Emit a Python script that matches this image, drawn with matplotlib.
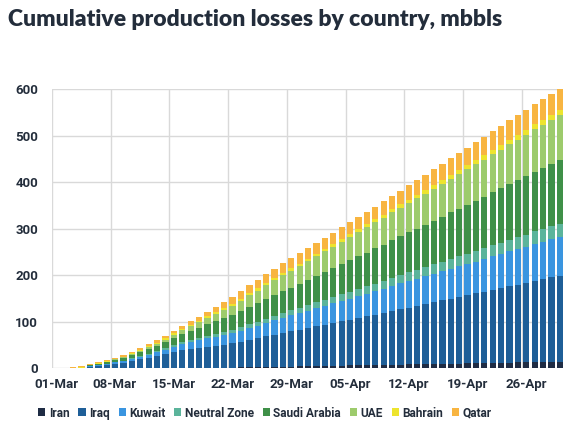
import matplotlib
matplotlib.use("Agg")
import matplotlib.pyplot as plt
import numpy as np

# daily dates 01-Mar .. 30-Apr
days = [f"{d:02d}-Mar" for d in range(1, 32)] + [f"{d:02d}-Apr" for d in range(1, 31)]
tick_days = ["01-Mar", "08-Mar", "15-Mar", "22-Mar", "29-Mar", "05-Apr", "12-Apr", "19-Apr", "26-Apr"]

countries = ["Iran", "Iraq", "Kuwait", "Neutral Zone", "Saudi Arabia", "UAE", "Bahrain", "Qatar"]
colors = ["#1f2c44", "#1f5f98", "#3a95e0", "#5bb49b", "#3f9048", "#9dcb6c", "#ede42e", "#f8b541"]

# cumulative losses per country, mbbls
iran = [0] * 15 + [0.3, 0.4, 0.5, 0.6, 0.7, 0.8, 1.0,
        1.2, 1.5, 1.8, 2.1, 2.4, 2.7, 3.0, 3.3, 3.6, 4.0, 4.4, 4.8, 5.1, 5.4,
        5.7, 6.0, 6.4, 6.7, 7.0, 7.3, 7.6, 8.0, 8.3, 8.6, 9.0, 9.3, 9.6, 10.0,
        10.3, 10.6, 11.0, 11.3, 11.6, 12.0, 12.3, 12.7, 13.0, 13.4, 13.8]
iraq = [0, 0, 0, 0, 3, 4.5, 6.5, 9, 11.5, 15, 18.5, 22, 25.5, 29.5, 34,
        38, 40.5, 43, 45.5, 47.5, 49.5, 52,
        55, 59, 62, 66, 69.5, 73, 76, 79, 82.5, 85.5, 89, 92, 95.5, 98.5,
        102, 105, 108.5, 112, 116, 119, 122.5, 126, 129.5, 133, 136.5, 140, 143.5,
        146.5, 150, 153.5, 157.5, 160.5, 164.5, 167.5, 171, 175, 178, 181.5, 184]
kuwait = [0, 0, 0, 0, 1, 1.5, 2.5, 3, 3.5, 4.5, 6, 7, 8.5, 10, 12,
          13, 14.5, 16, 17.5, 19.5, 21, 22,
          24, 26, 27.5, 29, 31, 32.5, 34, 35.5, 37, 39, 40.5, 42, 44, 45.5,
          47, 49, 50.5, 52, 54, 55.5, 57, 58, 59.5, 61, 62.5, 64, 65.5,
          67, 68.5, 70, 71.5, 73, 74.5, 76, 77.5, 79.5, 81, 82.5, 84]
neutral = [0, 0, 0, 0, 0.3, 0.4, 0.6, 0.8, 1, 1.3, 1.7, 2, 2.4, 2.9, 3.4,
           3.9, 4.4, 4.9, 5.5, 6, 6.5, 7,
           7.6, 8.1, 8.6, 9.2, 9.7, 10.3, 10.8, 11.3, 11.9, 12.4, 13, 13.5, 14, 14.6,
           15.2, 15.7, 16.3, 16.8, 17.4, 17.9, 18.5, 19, 19.6, 20.1, 20.7, 21.2, 21.8,
           22.3, 22.9, 23.4, 24, 24.5, 25.1, 25.6, 26.2, 26.7, 27.3, 27.8, 28.4]
saudi = [0, 0, 0, 0, 1.2, 1.8, 2.8, 3.8, 4.8, 6.3, 7.8, 9.3, 11, 13, 15.5,
         17.5, 19.5, 22, 24.5, 27, 29, 31.5,
         34, 36.5, 39, 41.5, 44, 46.5, 49, 51.5, 54, 56.5, 59.5, 62, 64.5, 67.5,
         70, 72.5, 75.5, 78, 81, 83.5, 86, 89, 91.5, 94.5, 97, 100, 102.5,
         105.5, 108.5, 111, 114, 117, 120, 122.5, 125.5, 128.5, 131.5, 134, 137]
uae = [0.1, 0.15, 0.3, 0.5, 0.7, 0.9, 1.3, 1.7, 2.1, 2.7, 3.3, 4, 4.8, 5.8, 7,
       8.5, 10, 12, 14, 16, 18, 20.5,
       23, 25, 27.5, 30, 32, 34.5, 36.5, 38.5, 40.5, 42.5, 44.5, 46.5, 48.5, 50.5,
       52, 54, 56, 57.5, 59.5, 61, 63, 65, 66.5, 68.5, 70.5, 72.5, 74,
       76, 78, 79.5, 81.5, 83.5, 85.5, 87, 89, 91, 92.5, 94.5, 96]
bahrain = [0.15, 0.25, 0.5, 0.8, 0.8, 0.9, 1.1, 1.3, 1.4, 1.6, 1.8, 2, 2.2, 2.4, 2.6,
           2.8, 3, 3.2, 3.4, 3.6, 3.8, 4,
           4.2, 4.4, 4.6, 4.8, 5, 5.2, 5.4, 5.5, 5.7, 5.8, 6, 6.1, 6.3, 6.4,
           6.6, 6.8, 7, 7.1, 7.3, 7.5, 7.7, 7.8, 8, 8.2, 8.3, 8.5, 8.7,
           8.9, 9, 9.2, 9.4, 9.6, 9.8, 10, 10.2, 10.4, 10.6, 10.8, 11]
qatar = [0.25, 0.6, 1.2, 2.2, 2, 2.5, 3, 2.5, 3, 3.5, 4, 4.5, 5, 5.5, 5.5,
         7, 8, 9, 10.5, 11.5, 12.5, 14,
         16, 17, 18, 19, 20, 21, 21.5, 22, 22.5, 23, 23.5, 24, 24.5, 25,
         26, 26.5, 27, 28, 28.5, 29.5, 31, 32, 33, 34, 35, 35.5, 36,
         37.5, 38.5, 39.5, 40, 41, 42, 43, 44, 44.5, 45, 45.5, 46]

series = [iran, iraq, kuwait, neutral, saudi, uae, bahrain, qatar]

text_col = "#232d3b"
plt.rcParams["font.family"] = ["Roboto", "DejaVu Sans"]

fig = plt.figure(figsize=(5.72, 4.36), dpi=100)
ax = fig.add_axes([52 / 572, 1 - 368 / 436, (563 - 52) / 572, (368 - 89) / 436])

x = np.arange(len(days))
bottom = np.zeros(len(days))
for name, vals, col in zip(countries, series, colors):
    vals = np.array(vals, dtype=float)
    ax.bar(x + 0.15, vals, width=0.75, bottom=bottom, color=col, label=name,
           align="edge", linewidth=0, zorder=3)
    bottom += vals

ax.set_xlim(0, 60.9)
ax.set_ylim(0, 600)
ax.set_yticks(range(0, 601, 100))
tick_pos = [days.index(t) for t in tick_days]
ax.set_xticks([p + 0.5 for p in tick_pos])
ax.set_xticklabels(tick_days)
ax.set_xticks(tick_pos, minor=True)
ax.tick_params(axis="both", which="both", length=0)
ax.tick_params(axis="y", pad=10)
ax.tick_params(axis="x", pad=7)
for lab in ax.get_xticklabels() + ax.get_yticklabels():
    lab.set_fontsize(9.5)
    lab.set_fontweight("bold")
    lab.set_color(text_col)

ax.grid(axis="y", color="#d9d9d9", linewidth=1, zorder=0)
ax.grid(axis="x", which="minor", color="#d9d9d9", linewidth=1, zorder=0)
ax.grid(axis="x", which="major", visible=False)
for s in ax.spines.values():
    s.set_visible(False)

fig.text(8 / 572, 1 - 19 / 436, "Cumulative production losses by country, mbbls",
         fontsize=16.5, fontweight="heavy", color=text_col, va="center",
         family=["Lato", "DejaVu Sans"])

fig.legend(loc="center", bbox_to_anchor=(265 / 572, 1 - 413 / 436), ncol=8,
           frameon=False, handlelength=0.6, handleheight=0.6, handletextpad=0.28,
           columnspacing=0.75, prop={"size": 8.6, "weight": "bold"},
           labelcolor=text_col)

fig.savefig("out.png", dpi=100)
